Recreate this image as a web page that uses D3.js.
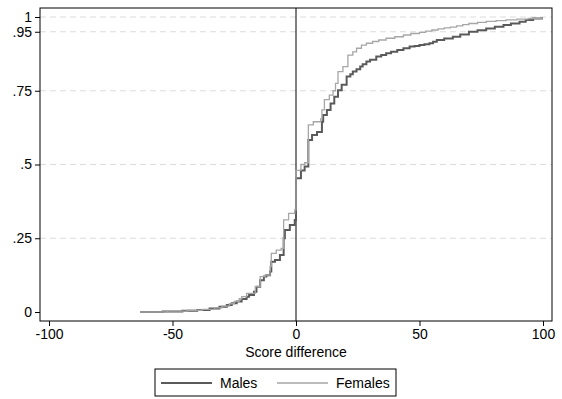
<!DOCTYPE html>
<html>
<head>
<meta charset="utf-8">
<script src="https://cdn.jsdelivr.net/npm/d3@7"></script>
<style>
  body { margin: 0; background: #fff; }
  text { font-family: "Liberation Sans", Arial, sans-serif; fill: #000; }
</style>
</head>
<body>
<svg class="chart"></svg>
<script>
var male_score = [-63, -54, -46, -40, -35, -31, -28, -26, -24, -22, -20, -19, -17, -16, -14.5, -13, -12, -10.5, -10, -8.5, -6.5, -5, -4.5, -2.5, -0.5,
    0, 2, 3.5, 5, 6.5, 8.5, 10.5, 11, 12.5, 14, 15.5, 17, 18.5, 20.5, 22, 23, 24.5, 26, 27, 28.5, 30, 32.5, 34.5, 36.5, 38.5, 41, 43.5, 46, 48,
    50, 52, 54, 55.5, 57, 60, 63.5, 66.5, 70, 73.5, 77, 80.5, 84, 87, 90.5, 93, 96, 99.5]
var male_cdf = [0, 0.002, 0.004, 0.007, 0.012, 0.018, 0.024, 0.03, 0.036, 0.044, 0.052, 0.058, 0.069, 0.086, 0.108, 0.12, 0.125, 0.137, 0.17, 0.176, 0.193, 0.25, 0.278, 0.295, 0.312,
    0.453, 0.48, 0.493, 0.583, 0.6, 0.61, 0.645, 0.668, 0.685, 0.707, 0.73, 0.752, 0.77, 0.798, 0.806, 0.815, 0.823, 0.832, 0.84, 0.849, 0.855, 0.866, 0.871, 0.877, 0.882, 0.888, 0.894, 0.9, 0.902,
    0.905, 0.908, 0.911, 0.916, 0.922, 0.927, 0.933, 0.941, 0.95, 0.955, 0.961, 0.967, 0.973, 0.978, 0.984, 0.99, 0.995, 1]

var female_score = [-63, -52, -44, -38, -33, -30, -27, -25, -23, -22, -20, -16.5, -14.5, -12.5, -10.5, -10, -8, -6, -5, -3, -0.5,
    0, 2, 3.5, 5, 7, 10, 10.5, 11.5, 13.5, 15, 16, 17, 19, 21, 23, 24.5, 26.5, 28.5, 31, 33.5, 36.5, 40, 43.5, 46.5, 50, 52.5, 55, 57.5,
    60, 62.5, 65, 67.5, 70, 73.5, 77, 81, 85, 89.5, 94, 99.5]
var female_cdf = [0, 0.003, 0.006, 0.009, 0.014, 0.02, 0.028, 0.036, 0.045, 0.052, 0.063, 0.086, 0.12, 0.125, 0.154, 0.199, 0.21, 0.216, 0.312, 0.334, 0.346,
    0.48, 0.5, 0.506, 0.634, 0.645, 0.655, 0.685, 0.72, 0.735, 0.75, 0.775, 0.815, 0.832, 0.871, 0.882, 0.894, 0.905, 0.911, 0.917, 0.922, 0.928, 0.933, 0.939, 0.944, 0.948, 0.952, 0.956, 0.96,
    0.963, 0.966, 0.97, 0.974, 0.978, 0.982, 0.985, 0.988, 0.99, 0.993, 0.995, 1]

var x_ticks = [-100, -50, 0, 50, 100]
var y_ticks = [0, 0.25, 0.5, 0.75, 0.95, 1]
var y_labels = ['0', '.25', '.5', '.75', '.95', '1']
var grid_ticks = [0.25, 0.5, 0.75, 0.95, 1]

var series = [
    { name: 'Males', xs: male_score, ys: male_cdf, color: '#5a5a5a', width: 2 },
    { name: 'Females', xs: female_score, ys: female_cdf, color: '#a6a6a6', width: 1.3 }
]

var width = 562, height = 399
var box = { left: 40, right: 552, top: 8, bottom: 321 }
var font_size = '14px'

var svg = d3.select('.chart')
    .attr('width', width)
    .attr('height', height)

var x = d3.scaleLinear().domain([-100, 100]).range([49, 543])
var y = d3.scaleLinear().domain([0, 1]).range([312, 17])

// grid
svg.selectAll('.grid')
    .data(grid_ticks)
    .enter().append('line')
    .attr('class', 'grid')
    .attr('x1', box.left).attr('x2', box.right)
    .attr('y1', (d) => y(d)).attr('y2', (d) => y(d))
    .attr('stroke', '#dcdcdc')
    .attr('stroke-width', 1)
    .attr('stroke-dasharray', '6,4')

// reference line at zero
svg.append('line')
    .attr('x1', x(0)).attr('x2', x(0))
    .attr('y1', box.top).attr('y2', box.bottom)
    .attr('stroke', '#000')
    .attr('stroke-width', 1)

var line = d3.line()
    .x((d) => x(d[0]))
    .y((d) => y(d[1]))
    .curve(d3.curveStepAfter)

series.forEach(function (s) {
    svg.append('path')
        .datum(d3.zip(s.xs, s.ys))
        .attr('d', line)
        .attr('fill', 'none')
        .attr('stroke', s.color)
        .attr('stroke-width', s.width)
})

// frame
svg.append('rect')
    .attr('x', box.left).attr('y', box.top)
    .attr('width', box.right - box.left)
    .attr('height', box.bottom - box.top)
    .attr('fill', 'none')
    .attr('stroke', '#000')
    .attr('stroke-width', 1)

// y axis
var y_axis = d3.axisLeft(y)
    .tickValues(y_ticks)
    .tickFormat((d, i) => y_labels[i])
    .tickSize(5)
    .tickPadding(3)

var gy = svg.append('g')
    .attr('transform', 'translate(' + box.left + ',0)')
    .call(y_axis)
gy.select('.domain').remove()
gy.selectAll('text').style('font-size', font_size).style('font-family', '"Liberation Sans", Arial, sans-serif')

// x axis, plain hyphen for negatives
var x_axis = d3.axisBottom(x)
    .tickValues(x_ticks)
    .tickFormat((d) => String(d))
    .tickSize(5)
    .tickPadding(3)

var gx = svg.append('g')
    .attr('transform', 'translate(0,' + box.bottom + ')')
    .call(x_axis)
gx.select('.domain').remove()
gx.selectAll('text').style('font-size', font_size).style('font-family', '"Liberation Sans", Arial, sans-serif')

svg.append('text')
    .attr('x', x(0))
    .attr('y', 357)
    .attr('text-anchor', 'middle')
    .style('font-size', font_size)
    .text('Score difference')

// legend
var legend = svg.append('g').attr('transform', 'translate(155,369)')
legend.append('rect')
    .attr('width', 241).attr('height', 27)
    .attr('fill', '#fff')
    .attr('stroke', '#000')
    .attr('stroke-width', 1)

var offsets = [6, 122]
var items = legend.selectAll('.item')
    .data(series)
    .enter().append('g')
    .attr('class', 'item')
    .attr('transform', (d, i) => 'translate(' + offsets[i] + ',14)')

items.append('line')
    .attr('x1', 0).attr('x2', 51)
    .attr('stroke', (d) => d.color)
    .attr('stroke-width', (d) => d.width)

items.append('text')
    .attr('x', 59)
    .attr('y', 5)
    .style('font-size', font_size)
    .text((d) => d.name)
</script>
</body>
</html>
